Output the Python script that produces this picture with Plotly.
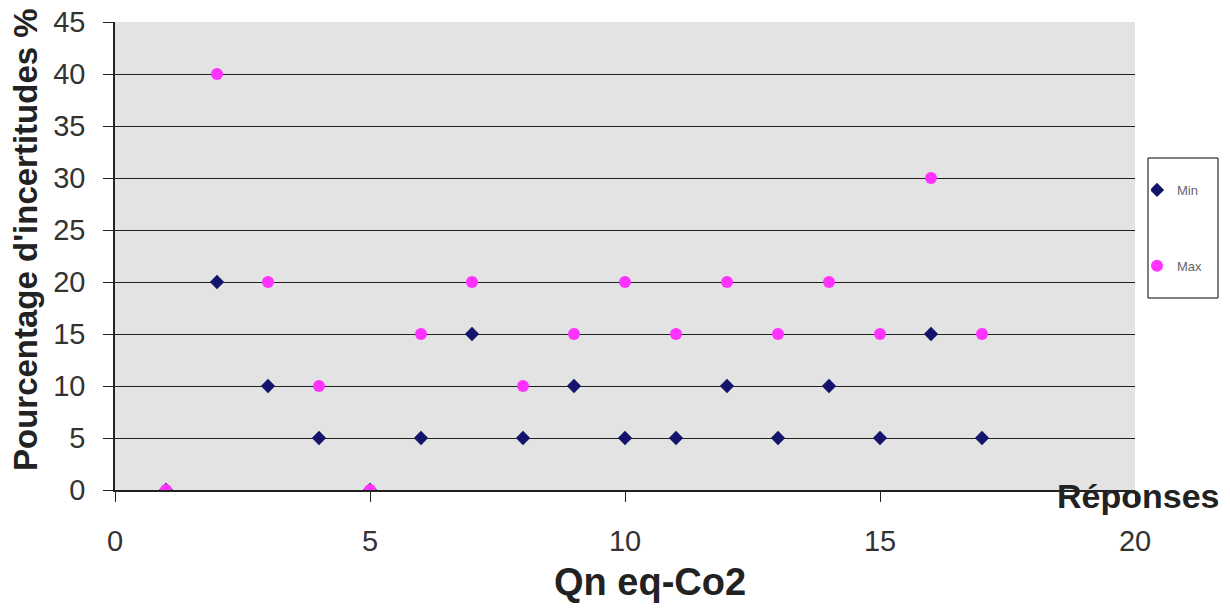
import plotly.graph_objects as go

reponses = list(range(1, 18))
min_vals = [0, 20, 10, 5, 0, 5, 15, 5, 10, 5, 5, 10, 5, 10, 5, 15, 5]
max_vals = [0, 40, 20, 10, 0, 15, 20, 10, 15, 20, 15, 20, 15, 20, 15, 30, 15]

OFF = 0
W, H = 1230 - OFF, 610 - OFF
L, T = 115 - OFF, 22 - OFF
R, B = W - (1135 - OFF), H - (490 - OFF)
pw, ph = W - L - R, H - T - B


def px(x):
    return (x - OFF - L) / pw


def py(y):
    return (H - B - (y - OFF)) / ph


fig = go.Figure()
fig.add_trace(go.Scatter(x=reponses, y=min_vals, mode="markers", name="Min",
                         legendgroup="a",
                         marker=dict(symbol="diamond", size=11, color="#14146b")))
fig.add_trace(go.Scatter(x=reponses, y=max_vals, mode="markers", name="Max",
                         legendgroup="b",
                         marker=dict(symbol="circle", size=12, color="#ff33ff")))

fig.update_layout(
    width=W, height=H,
    margin=dict(l=L, r=R, t=T, b=B, autoexpand=False),
    paper_bgcolor="white",
    plot_bgcolor="#e3e3e3",
    font=dict(family="Liberation Sans, Arial, sans-serif", color="#333333"),
    showlegend=True,
    legend=dict(x=px(1151), y=py(175), xanchor="left", yanchor="top",
                bgcolor="rgba(0,0,0,0)", borderwidth=0,
                font=dict(size=13, color="#666666"), tracegroupgap=56,
                itemwidth=30, entrywidth=34, indentation=-14),
    shapes=[dict(type="rect", xref="paper", yref="paper",
                 x0=px(1148), x1=px(1218), y0=py(158), y1=py(298),
                 line=dict(color="black", width=1), fillcolor="white", layer="below")],
    xaxis=dict(range=[0, 20], tickvals=[0, 5, 10, 15, 20], showgrid=False,
               zeroline=False, showline=True, linecolor="#222222", linewidth=1.5,
               ticks="outside", ticklen=10, tickcolor="#222222",
               ticklabelstandoff=14, ticklabeloverflow="allow",
               tickfont=dict(size=29, color="#333333")),
    yaxis=dict(range=[0, 45], dtick=5, showgrid=True, gridcolor="#222222", gridwidth=1,
               zeroline=False, showline=True, linecolor="#222222", linewidth=1.5,
               ticks="outside", ticklen=10, tickcolor="#222222",
               ticklabelstandoff=12, ticklabeloverflow="allow",
               tickfont=dict(size=29, color="#333333")),
    annotations=[
        dict(text="<b>Qn eq-Co2</b>", xref="paper", yref="paper",
             x=px(650), y=py(582), showarrow=False,
             font=dict(size=38, color="#222222"), xanchor="center", yanchor="middle"),
        dict(text="<b>Pourcentage d'incertitudes %</b>", xref="paper", yref="paper",
             x=px(25), y=py(240), showarrow=False, textangle=-90,
             font=dict(size=33, color="#222222"), xanchor="center", yanchor="middle"),
        dict(text="<b>Réponses</b>", xref="paper", yref="paper",
             x=px(1138), y=py(496), showarrow=False,
             font=dict(size=34, color="#222222"), xanchor="center", yanchor="middle"),
    ],
)

fig.write_html("out.html", config={"displayModeBar": False},
               post_script="document.body.style.margin='0';document.body.style.overflow='hidden';")
